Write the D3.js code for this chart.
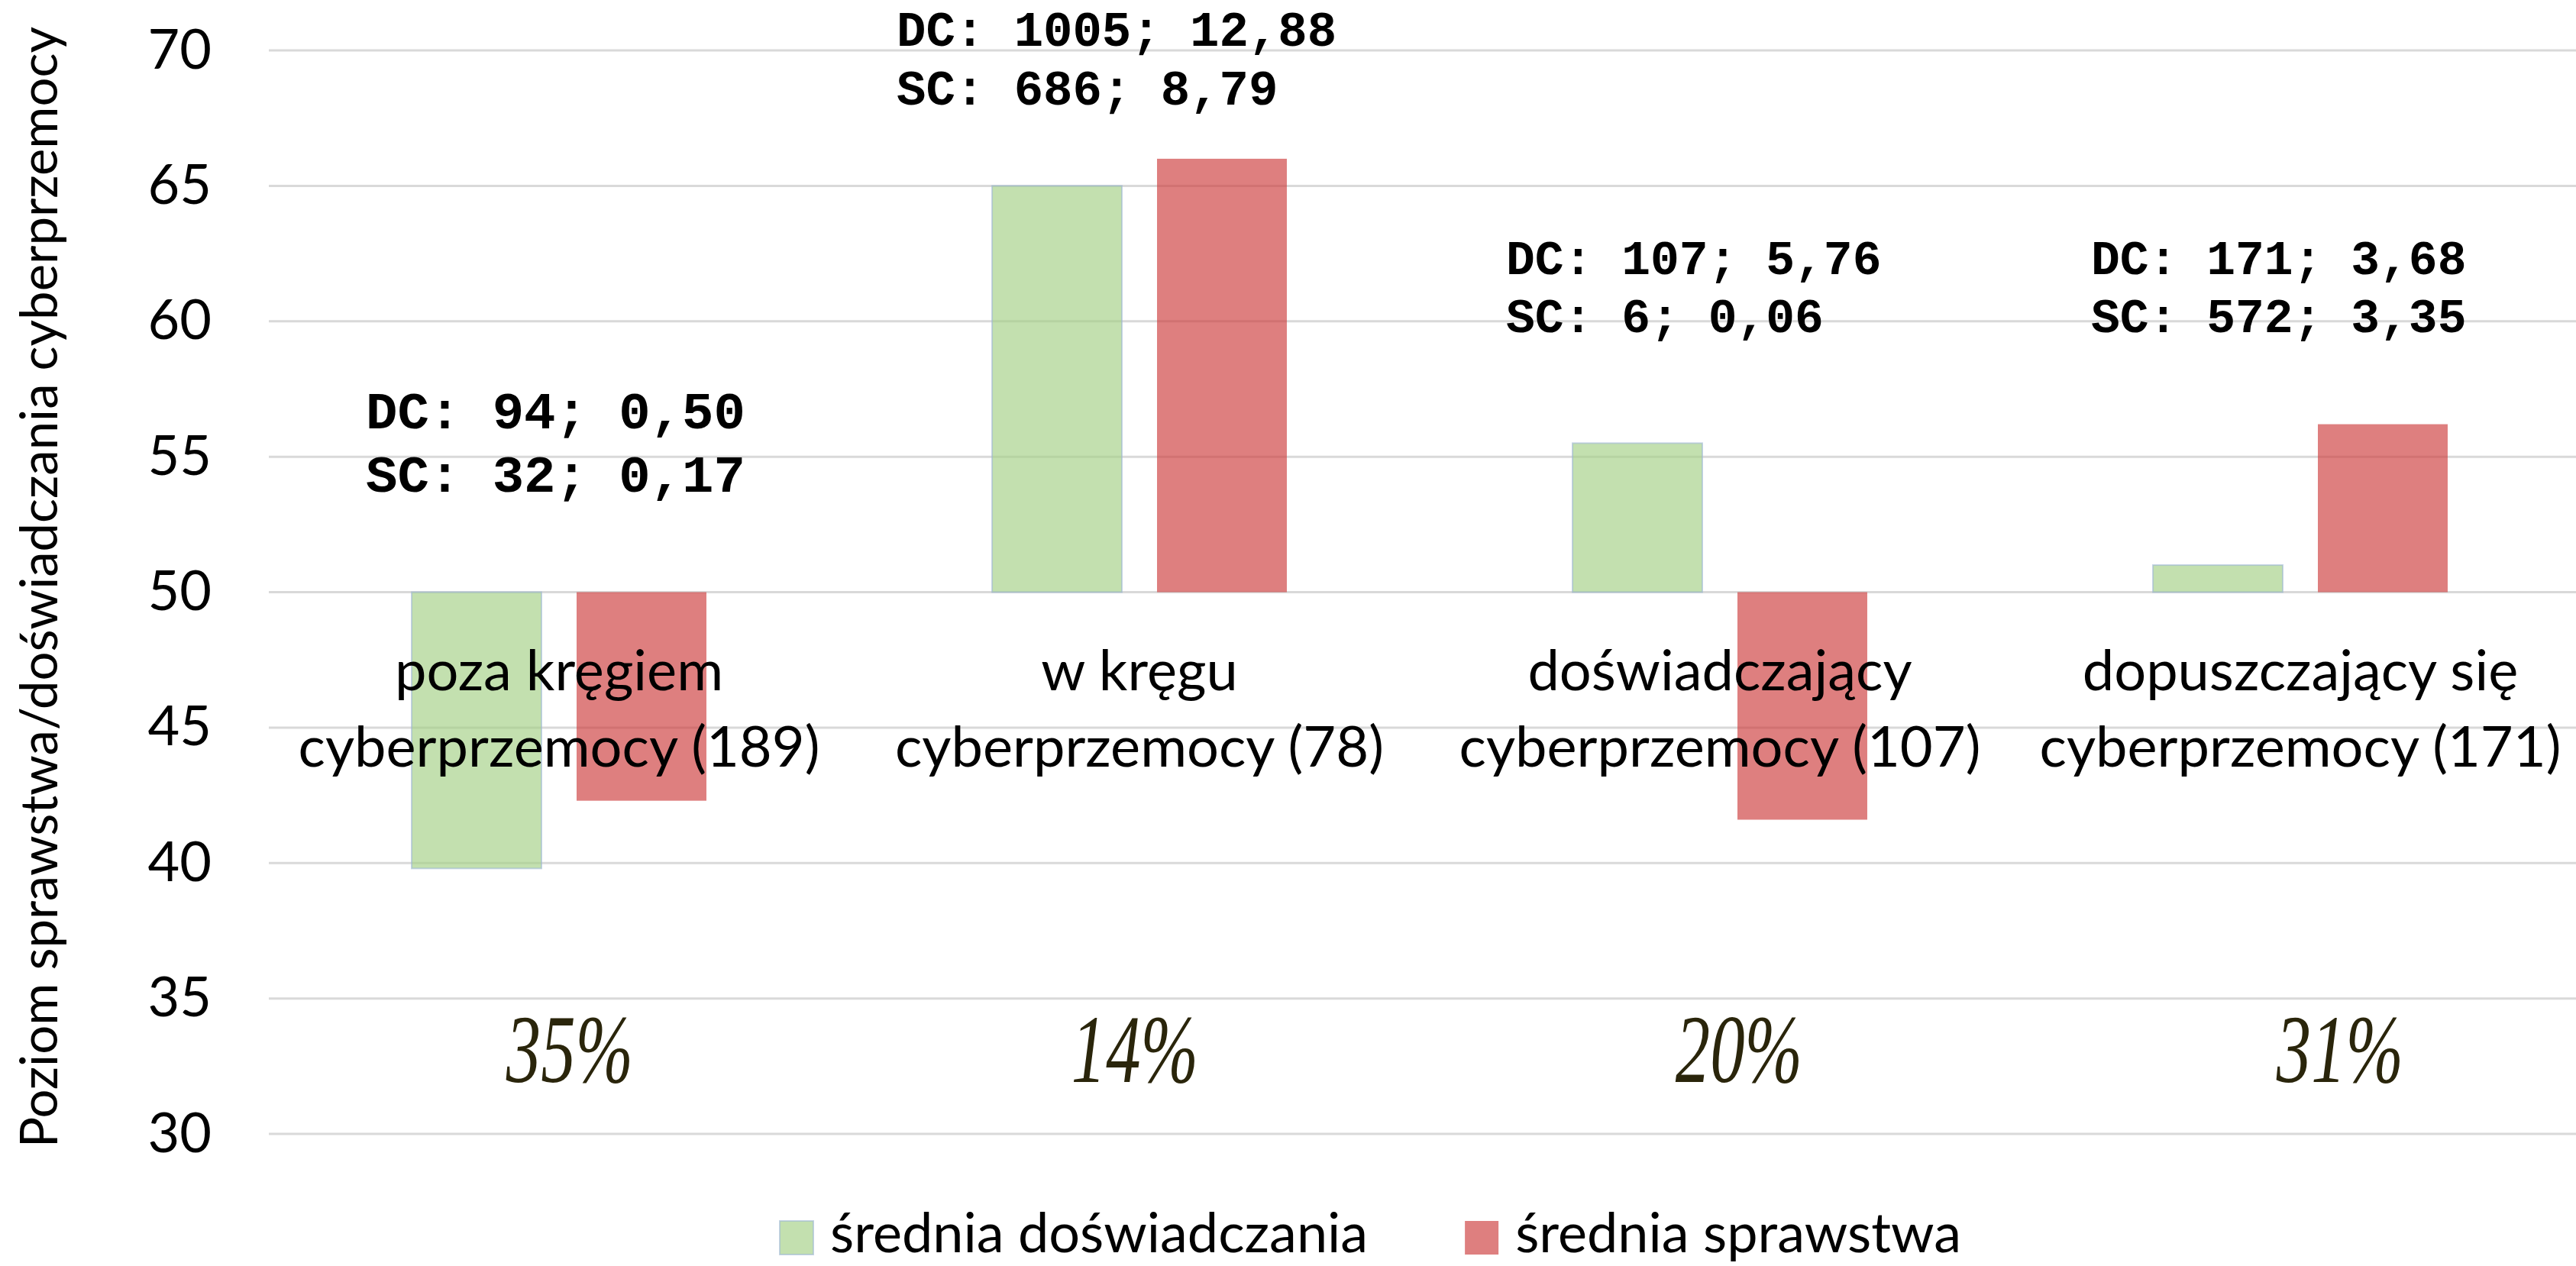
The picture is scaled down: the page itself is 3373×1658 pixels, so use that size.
<!DOCTYPE html>
<html lang="pl">
<head>
<meta charset="utf-8">
<title>Poziom sprawstwa i doświadczania cyberprzemocy</title>
<script src="https://cdn.jsdelivr.net/npm/d3@7"></script>
<style>
  html, body { margin: 0; padding: 0; background: #fff; }
  #chart svg { display: block; }
</style>
</head>
<body>
<div id="chart"></div>
<script>
// Data
const groupNames = ["poza kręgiem", "w kręgu", "doświadczający", "dopuszczający się"];
const groupSizes = [189, 78, 107, 171];
const groupShares = ["35%", "14%", "20%", "31%"];

const seriesNames = ["średnia doświadczania", "średnia sprawstwa"];
const experienceMeans = [39.8, 65.0, 55.5, 51.0];
const perpetrationMeans = [42.3, 66.0, 41.6, 56.2];

// DC / SC boxes: count; ratio
const dcCounts = [94, 1005, 107, 171];
const dcRatios = ["0,50", "12,88", "5,76", "3,68"];
const scCounts = [32, 686, 6, 572];
const scRatios = ["0,17", "8,79", "0,06", "3,35"];

const yTicks = [30, 35, 40, 45, 50, 55, 60, 65, 70];
const baseline = 50;

// layout
const width = 3373;
const height = 1658;
const margin = { top: 66, right: -19, bottom: 173, left: 352 };

// where the loose text boxes sit (offset from group centre, y in data units)
const boxLayout = [
  { dx: -253, y: 56.05, size: 69, lead: 83 },
  { dx: -318, y: 70.18, size: 64, lead: 77 },
  { dx: -280, y: 61.75, size: 63, lead: 76 },
  { dx: -274, y: 61.75, size: 63, lead: 76 },
];
const shareOffsets = [14, -6, 25, 52];

const colors = { exp: "#a3cf84", perp: "#cc3b3b" };

const svg = d3
  .select("#chart")
  .append("svg")
  .attr("width", width)
  .attr("height", height);

// Set up scales
const x0 = d3
  .scaleBand()
  .domain(groupNames)
  .range([margin.left, width - margin.right])
  .paddingInner(0)
  .paddingOuter(0);

const x1 = d3
  .scaleBand()
  .domain(seriesNames)
  .range([0, x0.bandwidth()])
  .paddingInner(0.213)
  .paddingOuter(0.866);

const y = d3
  .scaleLinear()
  .domain([30, 70])
  .range([height - margin.bottom, margin.top]);

// Gridlines
svg
  .append("g")
  .selectAll("line")
  .data(yTicks)
  .enter()
  .append("line")
  .attr("x1", margin.left)
  .attr("x2", width)
  .attr("y1", (d) => y(d))
  .attr("y2", (d) => y(d))
  .attr("stroke", "#d9d9d9")
  .attr("stroke-width", 3);

// Y axis tick labels (axis line hidden)
const yAxis = d3.axisLeft(y).tickValues(yTicks).tickSize(0).tickPadding(75);
const yg = svg
  .append("g")
  .attr("transform", `translate(${margin.left}, 0)`)
  .call(yAxis);
yg.select(".domain").remove();
yg.selectAll("text")
  .attr("font-family", "Lato, sans-serif")
  .attr("font-size", 72)
  .attr("fill", "#000");

// Y axis title
svg
  .append("text")
  .attr("transform", "translate(75, 769) rotate(-90)")
  .attr("text-anchor", "middle")
  .attr("font-family", "Lato, sans-serif")
  .attr("font-size", 67)
  .attr("fill", "#000")
  .text("Poziom sprawstwa/doświadczania cyberprzemocy");

// Bars, drawn from the 50 line
const rows = groupNames.map((g, i) => ({
  group: g,
  values: [
    { series: seriesNames[0], value: experienceMeans[i], color: colors.exp },
    { series: seriesNames[1], value: perpetrationMeans[i], color: colors.perp },
  ],
}));

svg
  .append("g")
  .selectAll("g")
  .data(rows)
  .enter()
  .append("g")
  .attr("transform", (d) => `translate(${x0(d.group)}, 0)`)
  .selectAll("rect")
  .data((d) => d.values)
  .enter()
  .append("rect")
  .attr("x", (d) => x1(d.series))
  .attr("width", x1.bandwidth())
  .attr("y", (d) => Math.min(y(d.value), y(baseline)))
  .attr("height", (d) => Math.abs(y(d.value) - y(baseline)))
  .attr("fill", (d) => d.color)
  .attr("fill-opacity", 0.65)
  .attr("stroke", (d) => (d.color === colors.exp ? "#9fb8d3" : "none"))
  .attr("stroke-opacity", 0.6)
  .attr("stroke-width", 2);

// Category labels under the 50 line (on top of the bars)
const cat = svg
  .append("g")
  .selectAll("text")
  .data(groupNames)
  .enter()
  .append("text")
  .attr("text-anchor", "middle")
  .attr("font-family", "Lato, sans-serif")
  .attr("font-size", 74)
  .attr("fill", "#000");
cat
  .append("tspan")
  .attr("x", (d) => x0(d) + x0.bandwidth() / 2)
  .attr("y", y(baseline) + 128)
  .text((d) => d);
cat
  .append("tspan")
  .attr("x", (d) => x0(d) + x0.bandwidth() / 2)
  .attr("y", y(baseline) + 228)
  .text((d, i) => `cyberprzemocy (${groupSizes[i]})`);

// DC / SC text boxes
const boxes = svg
  .append("g")
  .selectAll("text")
  .data(groupNames)
  .enter()
  .append("text")
  .attr("font-family", "'Liberation Mono', 'Courier New', monospace")
  .attr("font-weight", "bold")
  .attr("font-size", (d, i) => boxLayout[i].size)
  .attr("fill", "#000")
  .attr("xml:space", "preserve");
boxes
  .append("tspan")
  .attr("x", (d, i) => x0(d) + x0.bandwidth() / 2 + boxLayout[i].dx)
  .attr("y", (d, i) => y(boxLayout[i].y))
  .text((d, i) => `DC: ${dcCounts[i]}; ${dcRatios[i]}`);
boxes
  .append("tspan")
  .attr("x", (d, i) => x0(d) + x0.bandwidth() / 2 + boxLayout[i].dx)
  .attr("y", (d, i) => y(boxLayout[i].y) + boxLayout[i].lead)
  .text((d, i) => `SC: ${scCounts[i]}; ${scRatios[i]}`);

// Share of each group, handwritten look
svg
  .append("g")
  .selectAll("text")
  .data(groupShares)
  .enter()
  .append("text")
  .attr("x", (d, i) => x0(groupNames[i]) + x0.bandwidth() / 2 + shareOffsets[i])
  .attr("y", 1417)
  .attr("text-anchor", "middle")
  .attr("font-family", "'Liberation Serif', serif")
  .attr("font-style", "italic")
  .attr("font-size", 126)
  .attr("fill", "#2a250b")
  .text((d) => d)
  .each(function () {
    // squeeze to a narrow script-like width
    const w = this.getComputedTextLength();
    d3.select(this)
      .attr("textLength", w * 0.72)
      .attr("lengthAdjust", "spacingAndGlyphs");
  });

// Legend
const legend = svg.append("g").attr("transform", "translate(1021, 0)");
let lx = 0;
seriesNames.forEach((name, i) => {
  const c = i === 0 ? colors.exp : colors.perp;
  legend
    .append("rect")
    .attr("x", lx)
    .attr("y", 1599)
    .attr("width", 44)
    .attr("height", 44)
    .attr("fill", c)
    .attr("fill-opacity", 0.65)
    .attr("stroke", i === 0 ? "#9fb8d3" : "none")
    .attr("stroke-opacity", 0.6)
    .attr("stroke-width", 2);
  const t = legend
    .append("text")
    .attr("x", lx + 66)
    .attr("y", 1640)
    .attr("font-family", "Lato, sans-serif")
    .attr("font-size", 72)
    .attr("fill", "#000")
    .text(name);
  lx += 66 + t.node().getComputedTextLength() + 127;
});
</script>
</body>
</html>
